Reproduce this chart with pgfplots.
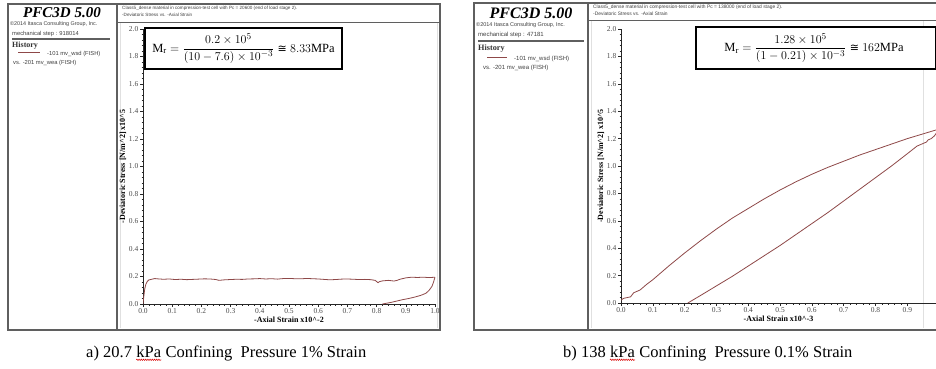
\documentclass[border=0pt]{standalone}
\usepackage{pgfplots}
\pgfplotsset{compat=1.18}
\usetikzlibrary{decorations.pathmorphing}
\usepackage{amsmath}
\usepackage{fontspec}
\setmainfont{Liberation Serif}
\newfontfamily\sansf{Liberation Sans}
\newfontfamily\dejavu{DejaVu Sans}
\newcommand{\approxeq}{\mathrel{\text{\dejavu\fontsize{11}{12}\selectfont ≅}}}
\definecolor{curve}{RGB}{142,72,72}
\definecolor{frm}{RGB}{95,95,95}
\pgfplotsset{pfc/.style={
  scale only axis,
  axis x line=bottom, axis y line=left,
  axis line style={line width=1pt,-,black!85},
  ymin=0, ymax=2,
  ytick={0,0.2,0.4,0.6,0.8,1.0,1.2,1.4,1.6,1.8,2.0},
  minor x tick num=4, minor y tick num=4,
  tick align=outside, major tick length=3pt, minor tick length=1.5pt,
  tick style={line width=0.6pt, black!85},
  /pgf/number format/assume math mode=true,
  xticklabel style={/pgf/number format/fixed, /pgf/number format/fixed zerofill, /pgf/number format/precision=1, font=\fontsize{7.5}{8}\selectfont, text=black!70, inner sep=1.5pt},
  yticklabel style={/pgf/number format/fixed, /pgf/number format/fixed zerofill, /pgf/number format/precision=1, font=\fontsize{7.5}{8}\selectfont, text=black!70, inner sep=1.5pt},
  xlabel style={font=\bfseries\fontsize{8}{9}\selectfont, inner sep=1pt},
  ylabel style={font=\bfseries\fontsize{8}{9}\selectfont, inner sep=1pt},
  ylabel={-Deviatoric Stress [N/m\^{}2] x10\^{}5},
}}
\tikzset{captxt/.style={font=\fontsize{16.5}{18}\selectfont, inner sep=0pt, anchor=base west},
  wav/.style={red!85!black, line width=0.5pt, decorate, decoration={snake, amplitude=0.7pt, segment length=2.2pt}}}
\begin{document}
\begin{tikzpicture}
\path[use as bounding box] (0pt,0pt) rectangle (936pt,-369pt);
\fill[white] (0pt,0pt) rectangle (936pt,-369pt);

% ---------- Panel a frames ----------
\draw[black!12, line width=0.8pt] (437pt,-23pt) -- (437pt,-328pt);
\draw[black!12, line width=0.8pt] (120pt,-23pt) -- (120pt,-328pt);
\draw[frm, line width=1.6pt] (8pt,-4pt) rectangle (440pt,-330pt);
\draw[frm, line width=1.2pt] (117pt,-4pt) -- (117pt,-330pt);
\draw[frm, line width=0.8pt] (117pt,-22pt) -- (440pt,-22pt);
\draw[frm, line width=1.1pt] (12pt,-39pt) -- (110pt,-39pt);

\node[font=\bfseries\itshape\fontsize{15}{16}\selectfont, inner sep=0pt] at (62pt,-13pt) {PFC3D 5.00};
\node[font=\sansf\fontsize{5.4}{6}\selectfont, anchor=base west, inner sep=0pt, text=black!75] at (10pt,-26pt) {\textcopyright2014 Itasca Consulting Group, Inc.};
\node[font=\sansf\fontsize{5.8}{6}\selectfont, anchor=base west, inner sep=0pt, text=black!75] at (12pt,-36pt) {mechanical step : 918014};
\node[font=\bfseries\fontsize{8}{9}\selectfont, anchor=base west, inner sep=0pt, text=black!80] at (12pt,-48pt) {History};
\draw[curve, line width=0.8pt] (18pt,-52pt) -- (40pt,-52pt);
\node[font=\sansf\fontsize{5.8}{6}\selectfont, anchor=base west, inner sep=0pt, text=black!75] at (47pt,-56pt) {-101 mv\_wsd (FISH)};
\node[font=\sansf\fontsize{5.8}{6}\selectfont, anchor=base west, inner sep=0pt, text=black!75] at (13pt,-64pt) {vs. -201 mv\_wea (FISH)};
\node[font=\sansf\fontsize{4.6}{5}\selectfont, anchor=base west, inner sep=0pt, text=black!75] at (122pt,-10pt) {Class5\_dense material in compression-test cell with Pc = 20600 (end of load stage 2).};
\node[font=\sansf\fontsize{4.6}{5}\selectfont, anchor=base west, inner sep=0pt, text=black!75] at (122pt,-17pt) {-Deviatoric Stress vs. -Axial Strain};

% ---------- Panel a axis ----------
\begin{axis}[pfc, at={(143pt,-304pt)}, anchor=south west,
  width=292pt, height=275pt,
  xmin=0, xmax=1,
  xtick={0,0.1,0.2,0.3,0.4,0.5,0.6,0.7,0.8,0.9,1.0},
  xlabel={-Axial Strain x10\^{}-2}]
\addplot[curve, line width=0.8pt] coordinates {
(0,0) (0.003,0.06) (0.006,0.11) (0.01,0.145) (0.015,0.165) (0.02,0.175) (0.03,0.18)
(0.04,0.185) (0.05,0.183) (0.07,0.18) (0.09,0.182) (0.11,0.178) (0.13,0.18) (0.15,0.177)
(0.17,0.179) (0.19,0.181) (0.21,0.183) (0.23,0.182) (0.25,0.178) (0.26,0.172) (0.28,0.176)
(0.30,0.178) (0.32,0.18) (0.34,0.179) (0.36,0.182) (0.38,0.183) (0.40,0.185) (0.42,0.182)
(0.44,0.184) (0.46,0.181) (0.48,0.185) (0.50,0.186) (0.52,0.184) (0.54,0.183) (0.56,0.186)
(0.58,0.184) (0.60,0.182) (0.62,0.179) (0.64,0.176) (0.66,0.178) (0.68,0.181) (0.70,0.182)
(0.72,0.18) (0.74,0.178) (0.76,0.179) (0.78,0.177) (0.795,0.172) (0.805,0.155) (0.81,0.163)
(0.82,0.168) (0.84,0.172) (0.86,0.167) (0.87,0.172) (0.88,0.18) (0.90,0.19) (0.92,0.195)
(0.94,0.193) (0.96,0.195) (0.98,0.192) (1.0,0.195)
};
\addplot[curve, line width=0.8pt] coordinates {
(1.0,0.195) (0.995,0.16) (0.99,0.13) (0.98,0.1) (0.97,0.08) (0.96,0.07) (0.95,0.062)
(0.93,0.05) (0.91,0.04) (0.89,0.032) (0.87,0.022) (0.85,0.012) (0.84,0.008) (0.83,0.004) (0.82,0.0)
};
\end{axis}

\draw[black, line width=1.2pt, fill=white] (145pt,-28pt) rectangle (342pt,-69pt);
\node[font=\fontsize{12.5}{14}\selectfont, inner sep=0pt] at (243.5pt,-48.5pt)
  {$\mathrm{M_r}=\dfrac{0.2\times10^{5}}{(10-7.6)\times10^{-3}}\approxeq 8.33\mathrm{MPa}$};

% ---------- Panel b frames ----------
\draw[black!12, line width=0.8pt] (923pt,-21pt) -- (923pt,-328pt);
\draw[black!12, line width=0.8pt] (591pt,-21pt) -- (591pt,-328pt);
\draw[frm, line width=1.6pt] (474pt,-3pt) rectangle (945pt,-330pt);
\draw[frm, line width=1.2pt] (588pt,-3pt) -- (588pt,-330pt);
\draw[frm, line width=0.8pt] (588pt,-20pt) -- (945pt,-20pt);
\draw[frm, line width=1.1pt] (478pt,-41pt) -- (584pt,-41pt);

\node[font=\bfseries\itshape\fontsize{16}{17}\selectfont, inner sep=0pt] at (531pt,-13pt) {PFC3D 5.00};
\node[font=\sansf\fontsize{5.5}{6}\selectfont, anchor=base west, inner sep=0pt, text=black!75] at (476pt,-27pt) {\textcopyright2014 Itasca Consulting Group, Inc.};
\node[font=\sansf\fontsize{6}{6}\selectfont, anchor=base west, inner sep=0pt, text=black!75] at (478pt,-37pt) {mechanical step : 47181};
\node[font=\bfseries\fontsize{8.2}{9}\selectfont, anchor=base west, inner sep=0pt, text=black!80] at (478pt,-51pt) {History};
\draw[curve, line width=0.8pt] (487pt,-57pt) -- (507pt,-57pt);
\node[font=\sansf\fontsize{6}{6}\selectfont, anchor=base west, inner sep=0pt, text=black!75] at (514pt,-60pt) {-101 mv\_wsd (FISH)};
\node[font=\sansf\fontsize{6}{6}\selectfont, anchor=base west, inner sep=0pt, text=black!75] at (483pt,-69pt) {vs. -201 mv\_wea (FISH)};
\node[font=\sansf\fontsize{4.9}{5}\selectfont, anchor=base west, inner sep=0pt, text=black!75] at (593pt,-9pt) {Class5\_dense material in compression-test cell with Pc = 138000 (end of load stage 2).};
\node[font=\sansf\fontsize{4.9}{5}\selectfont, anchor=base west, inner sep=0pt, text=black!75] at (593pt,-16pt) {-Deviatoric Stress vs. -Axial Strain};

% ---------- Panel b axis ----------
\begin{axis}[pfc, at={(621pt,-303pt)}, anchor=south west,
  width=315pt, height=274pt,
  xmin=0, xmax=0.99,
  xtick={0,0.1,0.2,0.3,0.4,0.5,0.6,0.7,0.8,0.9},
  xlabel={-Axial Strain x10\^{}-3}]
\addplot[curve, line width=0.8pt] coordinates {
(0,0.02) (0.005,0.03) (0.01,0.035) (0.02,0.04) (0.03,0.045) (0.035,0.06) (0.04,0.075)
(0.05,0.085) (0.06,0.095) (0.07,0.115) (0.08,0.135) (0.1,0.17) (0.15,0.27) (0.2,0.365)
(0.25,0.455) (0.3,0.54) (0.35,0.62) (0.4,0.69) (0.45,0.76) (0.5,0.825) (0.55,0.885)
(0.6,0.94) (0.65,0.99) (0.7,1.035) (0.75,1.08) (0.8,1.12) (0.85,1.16) (0.9,1.2)
(0.95,1.235) (1.0,1.27)
};
\addplot[curve, line width=0.8pt] coordinates {
(0.21,0) (0.25,0.055) (0.3,0.125) (0.35,0.195) (0.4,0.27) (0.45,0.345) (0.5,0.42)
(0.55,0.5) (0.6,0.58) (0.65,0.66) (0.7,0.745) (0.75,0.83) (0.8,0.915) (0.85,1.0)
(0.9,1.09) (0.93,1.145) (0.95,1.165) (0.96,1.175) (0.965,1.19) (0.975,1.2) (0.985,1.22) (1.0,1.27)
};
\end{axis}

\draw[black, line width=1.2pt, fill=white] (696pt,-27pt) rectangle (936pt,-69pt);
\node[font=\fontsize{12.5}{14}\selectfont, inner sep=0pt] at (814pt,-48pt)
  {$\mathrm{M_r}=\dfrac{1.28\times10^{5}}{(1-0.21)\times10^{-3}}\approxeq 162\mathrm{MPa}$};

% ---------- Captions ----------
\node[captxt] (a1) at (86pt,-357pt) {a) 20.7};
\node[captxt] (a2) at ([xshift=4pt]a1.base east) {kPa};
\node[captxt] (a3) at ([xshift=4pt]a2.base east) {Confining\ \ Pressure 1\% Strain};
\draw[wav] ([yshift=-2.8pt]a2.base west) -- ([yshift=-2.8pt]a2.base east);
\node[captxt] (b1) at (563pt,-357pt) {b) 138};
\node[captxt] (b2) at ([xshift=4pt]b1.base east) {kPa};
\node[captxt] (b3) at ([xshift=4pt]b2.base east) {Confining\ \ Pressure 0.1\% Strain};
\draw[wav] ([yshift=-2.8pt]b2.base west) -- ([yshift=-2.8pt]b2.base east);
\end{tikzpicture}
\end{document}
